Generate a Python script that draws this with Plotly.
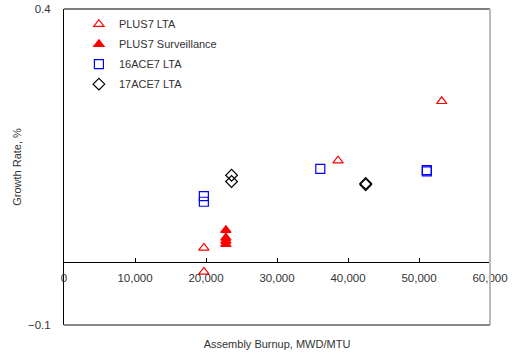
import plotly.graph_objects as go

# Data
plus7_lta_x = [19700, 19700, 38600, 53200]
plus7_lta_y = [0.022, -0.016, 0.160, 0.254]

plus7_surv_x = [22800, 22800, 22800, 22800]
plus7_surv_y = [0.050, 0.038, 0.033, 0.028]

ace16_x = [19700, 19700, 36100, 51100, 51100]
ace16_y = [0.104, 0.095, 0.147, 0.145, 0.143]

ace17_x = [23600, 23600, 42500, 42500]
ace17_y = [0.137, 0.127, 0.124, 0.122]

x_range = [0, 60000]
y_range = [-0.1, 0.4]
y_tickvals = [-0.1, 0.4]
y_ticktext = ["\u22120.1", "0.4"]
x_tickvals = [0, 10000, 20000, 30000, 40000, 50000, 60000]

FONT = "Liberation Sans, Arial, sans-serif"

fig = go.Figure()
series = [
    ("PLUS7 LTA", plus7_lta_x, plus7_lta_y, "triangle-up-open", "red"),
    ("PLUS7 Surveillance", plus7_surv_x, plus7_surv_y, "triangle-up", "red"),
    ("16ACE7 LTA", ace16_x, ace16_y, "square-open", "blue"),
    ("17ACE7 LTA", ace17_x, ace17_y, "diamond-open", "black"),
]
for i, (name, xs, ys, sym, col) in enumerate(series):
    fig.add_trace(go.Scatter(
        x=xs, y=ys, mode="markers", name=name, legendgroup=f"g{i}",
        marker=dict(symbol=sym, color=col, size=9, line=dict(width=1.2, color=col)),
    ))

fig.update_layout(
    width=512, height=353,
    margin=dict(l=64, r=22, t=9, b=28),
    paper_bgcolor="white", plot_bgcolor="white",
    font=dict(family=FONT, size=11, color="#333"),
    showlegend=True,
    legend=dict(x=0.035, y=0.998, xanchor="left", yanchor="top",
                bgcolor="rgba(0,0,0,0)", font=dict(size=11, color="#333"),
                traceorder="grouped", tracegroupgap=1),
    xaxis=dict(range=x_range, tickvals=x_tickvals, tickformat=",d",
               showgrid=False, zeroline=False, showline=True, linecolor="black",
               linewidth=1, ticks="inside", ticklen=4, tickcolor="black",
               anchor="free", position=0.2, automargin=False,
               ticklabelstandoff=5, ticklabeloverflow="allow",
               title=dict(text="Assembly Burnup, MWD/MTU", font=dict(size=11),
                          standoff=57),
               tickfont=dict(size=11.5)),
    yaxis=dict(range=y_range, tickvals=y_tickvals, ticktext=y_ticktext,
               showgrid=False, zeroline=False, showline=True, linecolor="black",
               linewidth=1, ticks="", ticklabelstandoff=10, automargin=False,
               ticklabeloverflow="allow",
               title=dict(text="Growth Rate, %", font=dict(size=11), standoff=4),
               tickfont=dict(size=11.5)),
    shapes=[
        dict(type="line", xref="paper", yref="paper", x0=0, x1=1, y0=1, y1=1,
             line=dict(color="#555", width=1.5)),
        dict(type="line", xref="paper", yref="paper", x0=1, x1=1, y0=0, y1=1,
             line=dict(color="#bbb", width=2)),
        dict(type="line", xref="paper", yref="paper", x0=0, x1=1, y0=0, y1=0,
             line=dict(color="#888", width=2)),
    ],
)

# Remove the default page margin so the 512x353 figure fills the window exactly.
fig.write_html(
    "out.html",
    config={"displayModeBar": False},
    post_script="document.body.style.margin='0';document.body.style.overflow='hidden';",
)
